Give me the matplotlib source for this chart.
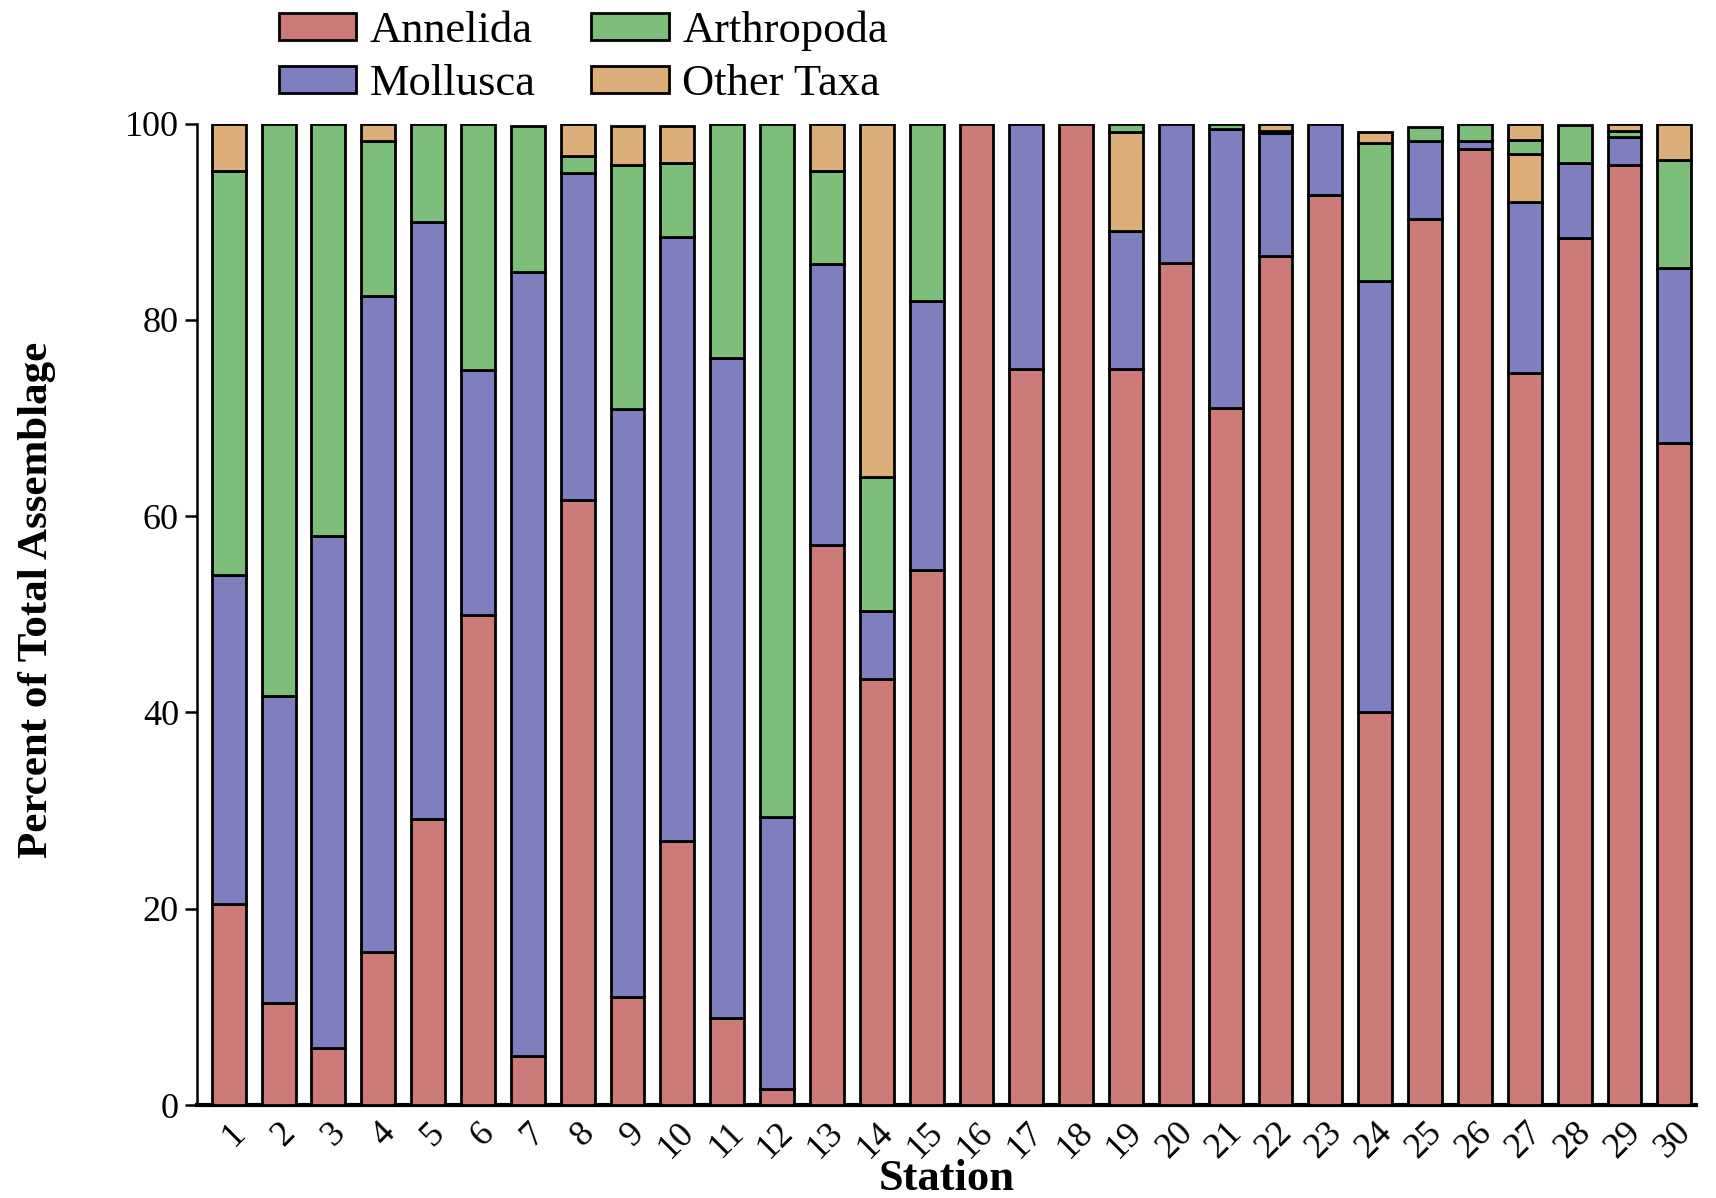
import numpy as np
import matplotlib
matplotlib.use("Agg")
import matplotlib.pyplot as plt

# Station numbers
stations = list(range(1, 31))

# Percent of total assemblage per taxon (stack order bottom -> top)
annelida = [20.5, 10.4, 5.8, 15.6, 29.1, 49.9, 5.0, 61.7, 11.0, 26.9,
            8.9, 1.6, 57.1, 43.4, 54.5, 100.0, 75.0, 100.0, 75.0, 85.8,
            71.0, 86.5, 92.7, 40.0, 90.3, 97.4, 74.6, 88.3, 95.8, 67.5]
mollusca = [33.5, 31.3, 52.2, 66.8, 60.9, 25.0, 79.9, 33.3, 59.9, 61.5,
            67.2, 27.7, 28.6, 6.9, 27.4, 0.0, 25.0, 0.0, 14.1, 14.2,
            28.5, 12.5, 7.3, 44.0, 7.9, 0.8, 17.4, 7.7, 2.8, 17.8]
# Other taxa stacked below arthropods at some stations
other_lower = [0, 0, 0, 0, 0, 0, 0, 0, 0, 0,
               0, 0, 0, 0, 0, 0, 0, 0, 10.0, 0,
               0, 0, 0, 0, 0, 0, 4.9, 0, 0, 0]
arthropoda = [41.2, 58.3, 42.0, 15.8, 10.0, 25.1, 14.9, 1.7, 24.9, 7.6,
              23.9, 70.7, 9.5, 13.7, 18.1, 0.0, 0.0, 0.0, 0.9, 0.0,
              0.5, 0.3, 0.0, 14.0, 1.5, 1.8, 1.4, 3.9, 0.7, 11.0]
other_upper = [4.8, 0, 0, 1.8, 0, 0, 0, 3.3, 4.0, 3.8,
               0, 0, 4.8, 36.0, 0, 0, 0, 0, 0, 0,
               0, 0.7, 0, 1.1, 0, 0, 1.7, 0, 0.7, 3.7]

colors = {
    "Annelida": "#CD7B79",
    "Mollusca": "#7F7FBF",
    "Arthropoda": "#7CBE7A",
    "Other Taxa": "#DCAE7A",
}

plt.rcParams["font.family"] = ["Liberation Serif", "DejaVu Serif"]

fig = plt.figure(figsize=(17.16, 11.98), dpi=100)
ax = fig.add_axes([0.1148, 0.0776, 0.8737, 0.8192])

x = np.array(stations, dtype=float)
layers = [
    ("Annelida", annelida),
    ("Mollusca", mollusca),
    ("Other Taxa", other_lower),
    ("Arthropoda", arthropoda),
    ("Other Taxa", other_upper),
]

bottom = np.zeros(len(stations))
handles = {}
for name, vals in layers:
    v = np.array(vals, dtype=float)
    m = v > 0
    bars = ax.bar(x[m], v[m], bottom=bottom[m], width=0.68,
                  color=colors[name], edgecolor="black", linewidth=2.0,
                  zorder=3)
    handles.setdefault(name, bars)
    bottom += v

ax.set_xlim(0.363, 30.44)
ax.set_ylim(0, 100)
ax.set_yticks([0, 20, 40, 60, 80, 100])
ax.set_xticks(x)
ax.set_xticklabels([str(s) for s in stations], rotation=45, ha="right",
                   rotation_mode="anchor")
ax.tick_params(axis="y", labelsize=26, length=9, width=1.8, direction="out",
               pad=4)
ax.tick_params(axis="x", labelsize=26, length=0, pad=8)

for side in ("top", "right"):
    ax.spines[side].set_visible(False)
ax.spines["left"].set_linewidth(1.8)
ax.spines["bottom"].set_linewidth(3.0)

ax.set_xlabel("Station", fontsize=32, fontweight="bold", va="baseline")
ax.xaxis.set_label_coords(0.5, -0.087)
ax.set_ylabel("Percent of Total Assemblage", fontsize=31, fontweight="bold")
ax.yaxis.set_label_coords(-0.094, 0.515)

order = ["Annelida", "Mollusca", "Arthropoda", "Other Taxa"]
leg = fig.legend([handles[n] for n in order], order, ncol=2,
                 loc="upper left", bbox_to_anchor=(0.152, 1.006),
                 frameon=False, fontsize=32, handlelength=1.75,
                 handleheight=0.55, handletextpad=0.3, columnspacing=1.25,
                 labelspacing=0.3, borderaxespad=0.0)

fig.savefig("out.png", dpi=100)
